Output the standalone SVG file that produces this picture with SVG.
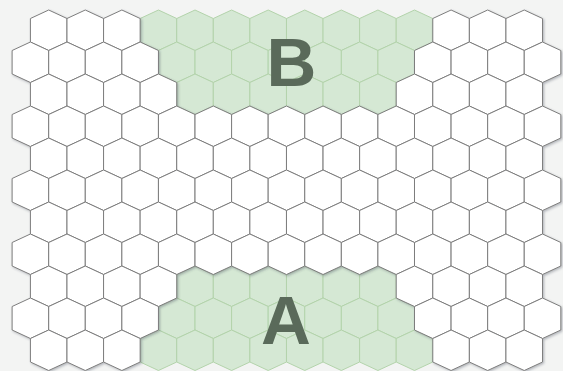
<svg xmlns="http://www.w3.org/2000/svg" xmlns:xlink="http://www.w3.org/1999/xlink" width="563" height="371" viewBox="0 0 563 371">
<style>
.g{fill:#d5e8d4;stroke:#b3d3ab;stroke-width:1}
.w{fill:#ffffff;stroke:#7d7d7d;stroke-width:1}
.lbl{font-family:"Liberation Sans",Arial,sans-serif;font-weight:bold;font-size:69px;fill:#5a6a5a;text-anchor:middle}
</style>
<defs>
<path id="h" d="M0,-20.25 L18.29,-11.75 L18.29,11.75 L0,20.25 L-18.29,11.75 L-18.29,-11.75Z"/>
<g id="evenRow">
<use href="#h" x="48.7"/><use href="#h" x="85.28"/><use href="#h" x="121.86"/><use href="#h" x="158.44"/><use href="#h" x="195.02"/><use href="#h" x="231.6"/><use href="#h" x="268.18"/><use href="#h" x="304.76"/><use href="#h" x="341.34"/><use href="#h" x="377.92"/><use href="#h" x="414.5"/><use href="#h" x="451.08"/><use href="#h" x="487.66"/><use href="#h" x="524.24"/>
</g>
<g id="oddRow">
<use href="#h" x="30.41"/><use href="#h" x="66.99"/><use href="#h" x="103.57"/><use href="#h" x="140.15"/><use href="#h" x="176.73"/><use href="#h" x="213.31"/><use href="#h" x="249.89"/><use href="#h" x="286.47"/><use href="#h" x="323.05"/><use href="#h" x="359.63"/><use href="#h" x="396.21"/><use href="#h" x="432.79"/><use href="#h" x="469.37"/><use href="#h" x="505.95"/><use href="#h" x="542.53"/>
</g>
<filter id="sh" x="-5%" y="-5%" width="110%" height="110%">
<feDropShadow dx="1.2" dy="1.2" stdDeviation="0.9" flood-color="#3a3f55" flood-opacity="0.35"/>
</filter>
</defs>
<rect width="563" height="371" fill="#f3f4f3"/>

<g id="zoneB" class="g">
<g transform="translate(0,30.25)"><use href="#h" x="158.44"/><use href="#h" x="195.02"/><use href="#h" x="231.6"/><use href="#h" x="268.18"/><use href="#h" x="304.76"/><use href="#h" x="341.34"/><use href="#h" x="377.92"/><use href="#h" x="414.5"/></g>
<g transform="translate(0,62.25)"><use href="#h" x="176.73"/><use href="#h" x="213.31"/><use href="#h" x="249.89"/><use href="#h" x="286.47"/><use href="#h" x="323.05"/><use href="#h" x="359.63"/><use href="#h" x="396.21"/></g>
<g transform="translate(0,94.25)"><use href="#h" x="195.02"/><use href="#h" x="231.6"/><use href="#h" x="268.18"/><use href="#h" x="304.76"/><use href="#h" x="341.34"/><use href="#h" x="377.92"/></g>
</g>

<g id="zoneA" class="g">
<g transform="translate(0,286.25)"><use href="#h" x="195.02"/><use href="#h" x="231.6"/><use href="#h" x="268.18"/><use href="#h" x="304.76"/><use href="#h" x="341.34"/><use href="#h" x="377.92"/></g>
<g transform="translate(0,318.25)"><use href="#h" x="176.73"/><use href="#h" x="213.31"/><use href="#h" x="249.89"/><use href="#h" x="286.47"/><use href="#h" x="323.05"/><use href="#h" x="359.63"/><use href="#h" x="396.21"/></g>
<g transform="translate(0,350.25)"><use href="#h" x="158.44"/><use href="#h" x="195.02"/><use href="#h" x="231.6"/><use href="#h" x="268.18"/><use href="#h" x="304.76"/><use href="#h" x="341.34"/><use href="#h" x="377.92"/><use href="#h" x="414.5"/></g>
</g>

<g id="grid" class="w" filter="url(#sh)">
<g transform="translate(0,30.25)"><use href="#h" x="48.7"/><use href="#h" x="85.28"/><use href="#h" x="121.86"/><use href="#h" x="451.08"/><use href="#h" x="487.66"/><use href="#h" x="524.24"/></g>
<g transform="translate(0,62.25)"><use href="#h" x="30.41"/><use href="#h" x="66.99"/><use href="#h" x="103.57"/><use href="#h" x="140.15"/><use href="#h" x="432.79"/><use href="#h" x="469.37"/><use href="#h" x="505.95"/><use href="#h" x="542.53"/></g>
<g transform="translate(0,94.25)"><use href="#h" x="48.7"/><use href="#h" x="85.28"/><use href="#h" x="121.86"/><use href="#h" x="158.44"/><use href="#h" x="414.5"/><use href="#h" x="451.08"/><use href="#h" x="487.66"/><use href="#h" x="524.24"/></g>
<use href="#oddRow" y="126.25"/>
<use href="#evenRow" y="158.25"/>
<use href="#oddRow" y="190.25"/>
<use href="#evenRow" y="222.25"/>
<use href="#oddRow" y="254.25"/>
<g transform="translate(0,286.25)"><use href="#h" x="48.7"/><use href="#h" x="85.28"/><use href="#h" x="121.86"/><use href="#h" x="158.44"/><use href="#h" x="414.5"/><use href="#h" x="451.08"/><use href="#h" x="487.66"/><use href="#h" x="524.24"/></g>
<g transform="translate(0,318.25)"><use href="#h" x="30.41"/><use href="#h" x="66.99"/><use href="#h" x="103.57"/><use href="#h" x="140.15"/><use href="#h" x="432.79"/><use href="#h" x="469.37"/><use href="#h" x="505.95"/><use href="#h" x="542.53"/></g>
<g transform="translate(0,350.25)"><use href="#h" x="48.7"/><use href="#h" x="85.28"/><use href="#h" x="121.86"/><use href="#h" x="451.08"/><use href="#h" x="487.66"/><use href="#h" x="524.24"/></g>
</g>

<g id="labelB"><text class="lbl" x="291.5" y="86">B</text></g>
<g id="labelA"><text class="lbl" x="286" y="344">A</text></g>
</svg>
